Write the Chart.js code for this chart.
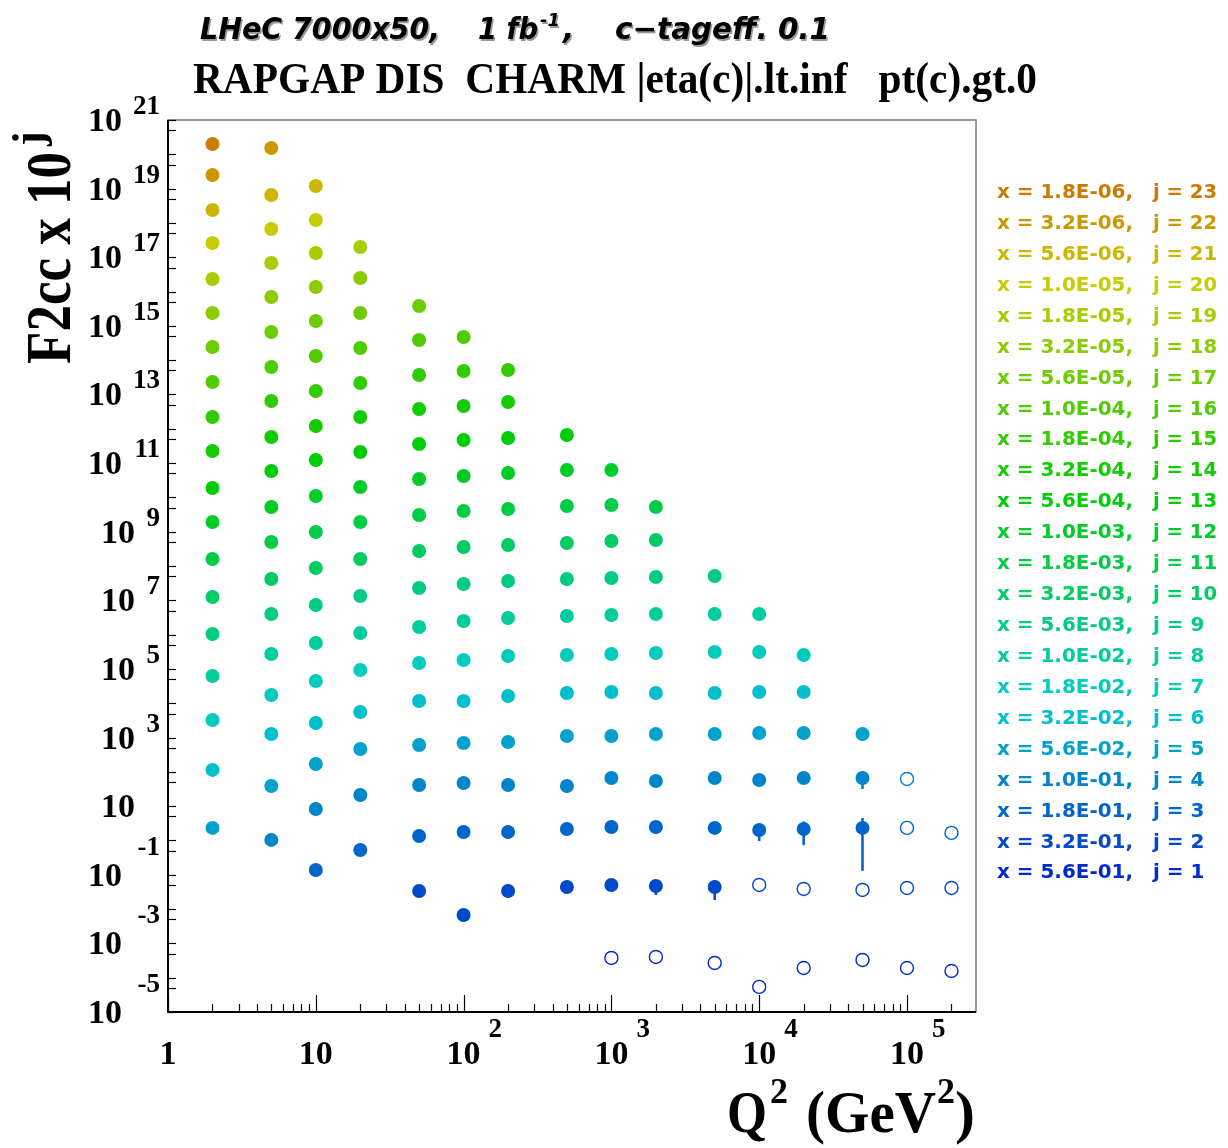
<!DOCTYPE html>
<html>
<head>
<meta charset="utf-8">
<title>F2cc RAPGAP</title>
<script src="https://cdn.jsdelivr.net/npm/chart.js@4.4.1/dist/chart.umd.min.js"></script>
<style>
  html, body { margin: 0; padding: 0; background: #fff; }
  #wrap { width: 1228px; height: 1148px; }
</style>
</head>
<body>
<div id="wrap"><canvas id="f2Chart" width="1228" height="1148"></canvas></div>
<script>
// Q2 bins (GeV^2), one column per bin
const q2Bins = [2, 5, 10, 20, 50, 100, 200, 500, 1000, 2000, 5000, 10000, 20000, 50000, 100000, 200000];

// x bins and the power of ten each one is shifted by
const xBins = ['1.8E-06', '3.2E-06', '5.6E-06', '1.0E-05', '1.8E-05', '3.2E-05', '5.6E-05', '1.0E-04',
               '1.8E-04', '3.2E-04', '5.6E-04', '1.0E-03', '1.8E-03', '3.2E-03', '5.6E-03', '1.0E-02',
               '1.8E-02', '3.2E-02', '5.6E-02', '1.0E-01', '1.8E-01', '3.2E-01', '5.6E-01'];
const jPowers = [23, 22, 21, 20, 19, 18, 17, 16, 15, 14, 13, 12, 11, 10, 9, 8, 7, 6, 5, 4, 3, 2, 1];

// F2cc, rows follow xBins, columns follow q2Bins (null = no point)
const _ = null;
const f2cc = [
  [0.00200, _, _, _, _, _, _, _, _, _, _, _, _, _, _, _],
  [0.00249, 0.0153, _, _, _, _, _, _, _, _, _, _, _, _, _, _],
  [0.00238, 0.00652, 0.0119, _, _, _, _, _, _, _, _, _, _, _, _, _],
  [0.00260, 0.00666, 0.0122, _, _, _, _, _, _, _, _, _, _, _, _, _],
  [0.00232, 0.00680, 0.0133, 0.0199, _, _, _, _, _, _, _, _, _, _, _, _],
  [0.00237, 0.00694, 0.0136, 0.0248, _, _, _, _, _, _, _, _, _, _, _, _],
  [0.00242, 0.00662, 0.0139, 0.0237, 0.0379, _, _, _, _, _, _, _, _, _, _, _],
  [0.00231, 0.00632, 0.0132, 0.0226, 0.0387, 0.0473, _, _, _, _, _, _, _, _, _, _],
  [0.00221, 0.00646, 0.0126, 0.0216, 0.0370, 0.0483, 0.0517, _, _, _, _, _, _, _, _, _],
  [0.00225, 0.00577, 0.0121, 0.0221, 0.0378, 0.0462, 0.0604, _, _, _, _, _, _, _, _, _],
  [0.00188, 0.00589, 0.0123, 0.0211, 0.0360, 0.0471, 0.0539, 0.0659, _, _, _, _, _, _, _, _],
  [0.00192, 0.00525, 0.0110, 0.0201, 0.0344, 0.0421, 0.0514, 0.0629, 0.0629, _, _, _, _, _, _, _],
  [0.00160, 0.00501, 0.00982, 0.0192, 0.0307, 0.0402, 0.0459, 0.0562, 0.0601, 0.0525, _, _, _, _, _, _],
  [0.00125, 0.00419, 0.00877, 0.0160, 0.0274, 0.0359, 0.0410, 0.0469, 0.0537, 0.0574, _, _, _, _, _, _],
  [0.00104, 0.00400, 0.00731, 0.0134, 0.0229, 0.0299, 0.0366, 0.0419, 0.0448, 0.0479, 0.0512, _, _, _, _, _],
  [0.000624, 0.00273, 0.00571, 0.0112, 0.0167, 0.0250, 0.0306, 0.0350, 0.0374, 0.0400, 0.0400, 0.0400, _, _, _, _],
  [0.000325, 0.00174, 0.00446, 0.00933, 0.0149, 0.0182, 0.0239, 0.0255, 0.0273, 0.0292, 0.0312, 0.0312, 0.0255, _, _, _],
  [0.000114, 0.00127, 0.00266, 0.00557, 0.0116, 0.0116, 0.0163, 0.0199, 0.0213, 0.0199, 0.0199, 0.0213, 0.0213, _, _, _],
  [0.0000232, 0.000388, 0.00170, 0.00465, 0.00608, 0.00695, 0.00743, 0.0111, 0.0111, 0.0127, 0.0127, 0.0136, 0.0136, 0.0127, _, _],
  [_, 0.000104, 0.000829, 0.00212, 0.00415, 0.00474, 0.00415, 0.00388, 0.00664, 0.00542, 0.00664, 0.00580, 0.00664, 0.00664, 0.00621, _],
  [_, _, 0.000138, 0.000529, 0.00135, 0.00177, 0.00177, 0.00216, 0.00248, 0.00248, 0.00232, 0.00202, 0.00216, 0.00232, 0.00232, 0.00166],
  [_, _, _, _, 0.000338, 0.0000675, 0.000338, 0.000442, 0.000505, 0.000472, 0.000442, 0.000505, 0.000386, 0.000361, 0.000413, 0.000413],
  [_, _, _, _, _, _, _, _, 0.0000376, 0.0000403, 0.0000269, 0.0000054, 0.0000192, 0.0000329, 0.0000192, 0.0000157]
];

// bins drawn with open markers: [j, Q2]
const openBins = [
  [4, 100000], [3, 100000], [3, 200000],
  [2, 10000], [2, 20000], [2, 50000], [2, 100000], [2, 200000],
  [1, 1000], [1, 2000], [1, 5000], [1, 10000], [1, 20000], [1, 50000], [1, 100000], [1, 200000]
];

// statistical errors on F2cc: [j, Q2, error]
const f2ccErrors = [
  [2, 2000, 0.000214], [2, 5000, 0.000257], [3, 10000, 0.00106],
  [3, 20000, 0.00143], [4, 50000, 0.00347], [3, 50000, 0.00219]
];

// axis labels: powers of ten that get a label
const xLabelPowers = [0, 1, 2, 3, 4, 5];
const yLabelPowers = [-5, -3, -1, 1, 3, 5, 7, 9, 11, 13, 15, 17, 19, 21];

const SERIF = '"Liberation Serif", "DejaVu Serif", serif';
const SANS = '"DejaVu Sans", sans-serif';

// rainbow palette, orange for the smallest x down to blue for the largest
function hsvColor(h, s, v) {
  const f = (n) => {
    const k = (n + h / 60) % 6;
    return v - v * s * Math.max(0, Math.min(k, 4 - k, 1));
  };
  const hex = (c) => Math.round(c * 255).toString(16).padStart(2, '0');
  return '#' + hex(f(5)) + hex(f(3)) + hex(f(1));
}
function markerColor(j) {
  return hsvColor(36 + (23 - j) * 8.7, 1, 0.8);
}

const datasets = jPowers.map((j, row) => {
  const color = markerColor(j);
  const shift = Math.pow(10, j);
  const points = [];
  q2Bins.forEach((q2, col) => {
    const f = f2cc[row][col];
    if (f == null) return;
    const open = openBins.some(b => b[0] === j && b[1] === q2);
    const e = f2ccErrors.find(b => b[0] === j && b[1] === q2);
    points.push({ x: q2, y: f * shift, open: open, err: e ? e[2] * shift : 0 });
  });
  return {
    label: 'x = ' + xBins[row] + ',  j = ' + j,
    data: points,
    borderColor: color,
    backgroundColor: color,
    pointRadius: ctx => (ctx.raw && ctx.raw.open) ? 6.5 : 7,
    pointBackgroundColor: ctx => (ctx.raw && ctx.raw.open) ? 'rgba(255,255,255,0)' : color,
    pointBorderColor: color,
    pointBorderWidth: ctx => (ctx.raw && ctx.raw.open) ? 1.4 : 0,
    showLine: false
  };
});

// vertical error bars, drawn under the markers
const errorBars = {
  id: 'errorBars',
  beforeDatasetsDraw(chart) {
    const { ctx, scales: { x, y } } = chart;
    ctx.save();
    chart.data.datasets.forEach(ds => {
      ds.data.forEach(p => {
        if (!p.err) return;
        const px = x.getPixelForValue(p.x);
        ctx.strokeStyle = ds.borderColor;
        ctx.lineWidth = 2.6;
        ctx.beginPath();
        ctx.moveTo(px, y.getPixelForValue(p.y + p.err));
        ctx.lineTo(px, y.getPixelForValue(Math.max(p.y - p.err, 1e-30)));
        ctx.stroke();
      });
    });
    ctx.restore();
  }
};

function drawText(ctx, s, x, y, font, align, maxW) {
  ctx.font = font;
  ctx.textAlign = align || 'left';
  if (maxW) ctx.fillText(s, x, y, maxW);
  else ctx.fillText(s, x, y);
}

// frame, inward ticks, labels, titles and the x/j legend
const frameAndLabels = {
  id: 'frameAndLabels',
  afterDraw(chart) {
    const { ctx, chartArea: a, scales: { x, y } } = chart;
    ctx.save();
    ctx.fillStyle = '#000';
    ctx.textBaseline = 'alphabetic';

    ctx.strokeStyle = '#777';
    ctx.lineWidth = 1.5;
    ctx.strokeRect(a.left, a.top, a.right - a.left, a.bottom - a.top);
    ctx.strokeStyle = '#000';
    ctx.lineWidth = 2;
    ctx.beginPath();
    ctx.moveTo(a.left, a.top);
    ctx.lineTo(a.left, a.bottom);
    ctx.lineTo(a.right, a.bottom);
    ctx.stroke();

    // x ticks: decades long, 2..9 short
    ctx.lineWidth = 1.2;
    for (let k = 0; k <= 5; k++) {
      for (let m = 1; m <= 9; m++) {
        const v = m * Math.pow(10, k);
        if (v > x.max) break;
        const px = Math.round(x.getPixelForValue(v)) + 0.5;
        ctx.beginPath();
        ctx.moveTo(px, a.bottom);
        ctx.lineTo(px, a.bottom - (m === 1 ? 17 : 8));
        ctx.stroke();
      }
    }
    // y ticks at 1 and 5 of every decade
    for (let k = -5; k <= 21; k++) {
      [1, 5].forEach(m => {
        const v = m * Math.pow(10, k);
        if (v > y.max) return;
        const py = Math.round(y.getPixelForValue(v)) + 0.5;
        ctx.beginPath();
        ctx.moveTo(a.left, py);
        ctx.lineTo(a.left + 8, py);
        ctx.stroke();
      });
    }

    const numFont = 'bold 34px ' + SERIF;
    const expFont = 'bold 27px ' + SERIF;
    xLabelPowers.forEach(p => {
      const px = x.getPixelForValue(Math.pow(10, p));
      drawText(ctx, p === 0 ? '1' : '10', px, 1064, numFont, 'center');
      if (p >= 2) drawText(ctx, String(p), px + 25, 1037, expFont, 'left');
    });
    yLabelPowers.forEach(p => {
      const py = y.getPixelForValue(Math.pow(10, p));
      const exp = p === 1 ? '' : String(p);
      drawText(ctx, '10', exp.length >= 2 ? 122 : 135, py + 11, numFont, 'right');
      if (exp) drawText(ctx, exp, 160, (p < 0 ? py - 29 : py - 15) + 9, expFont, 'right');
    });

    // axis titles
    drawText(ctx, 'Q', 727, 1132, 'bold 60px ' + SERIF, 'left', 40);
    drawText(ctx, '2', 770, 1103, 'bold 36px ' + SERIF, 'left');
    drawText(ctx, '(GeV', 806, 1132, 'bold 60px ' + SERIF, 'left', 130);
    drawText(ctx, '2', 937, 1103, 'bold 36px ' + SERIF, 'left');
    drawText(ctx, ')', 955, 1132, 'bold 60px ' + SERIF, 'left', 22);

    ctx.save();
    ctx.translate(70, 364);
    ctx.rotate(-Math.PI / 2);
    drawText(ctx, 'F2cc x 10', 0, 0, 'bold 64px ' + SERIF, 'left', 212);
    drawText(ctx, 'j', 218, -27, 'bold 44px ' + SERIF, 'left');
    ctx.restore();

    // titles
    ctx.save();
    ctx.shadowColor = 'rgba(0,0,0,0.4)';
    ctx.shadowOffsetX = 1.5;
    ctx.shadowOffsetY = 1.5;
    const t1 = 'bold oblique 30px ' + SANS;
    drawText(ctx, 'LHeC 7000x50,', 200, 39, t1, 'left', 240);
    drawText(ctx, '1 fb', 478, 39, t1, 'left', 60);
    drawText(ctx, '-1', 540, 26, 'bold oblique 18px ' + SANS, 'left');
    drawText(ctx, ',', 563, 39, t1, 'left');
    drawText(ctx, 'c\u2212tageff. 0.1', 615, 39, t1, 'left', 215);
    ctx.restore();
    drawText(ctx, 'RAPGAP DIS  CHARM |eta(c)|.lt.inf   pt(c).gt.0', 193, 93,
      'bold 45px ' + SERIF, 'left', 844);

    // legend: one line per x bin in its marker colour
    jPowers.forEach((j, i) => {
      const ly = 191 + i * 30.93 + 7;
      ctx.fillStyle = markerColor(j);
      drawText(ctx, 'x = ' + xBins[i] + ',', 997, ly, 'bold 20px ' + SANS, 'left', 136);
      drawText(ctx, 'j = ' + j, 1153, ly, 'bold 20px ' + SANS, 'left', 64);
    });
    ctx.restore();
  }
};

new Chart(document.getElementById('f2Chart'), {
  type: 'scatter',
  data: { datasets: datasets },
  options: {
    responsive: false,
    animation: false,
    devicePixelRatio: 1,
    layout: { padding: { left: 168, right: 252, top: 120, bottom: 136 } },
    plugins: {
      legend: { display: false },
      tooltip: { enabled: false },
      title: { display: false }
    },
    scales: {
      x: { type: 'logarithmic', min: 1, max: 2.93e5, display: false },
      y: { type: 'logarithmic', min: 1e-5, max: 1e21, display: false }
    }
  },
  plugins: [errorBars, frameAndLabels]
});
</script>
</body>
</html>
